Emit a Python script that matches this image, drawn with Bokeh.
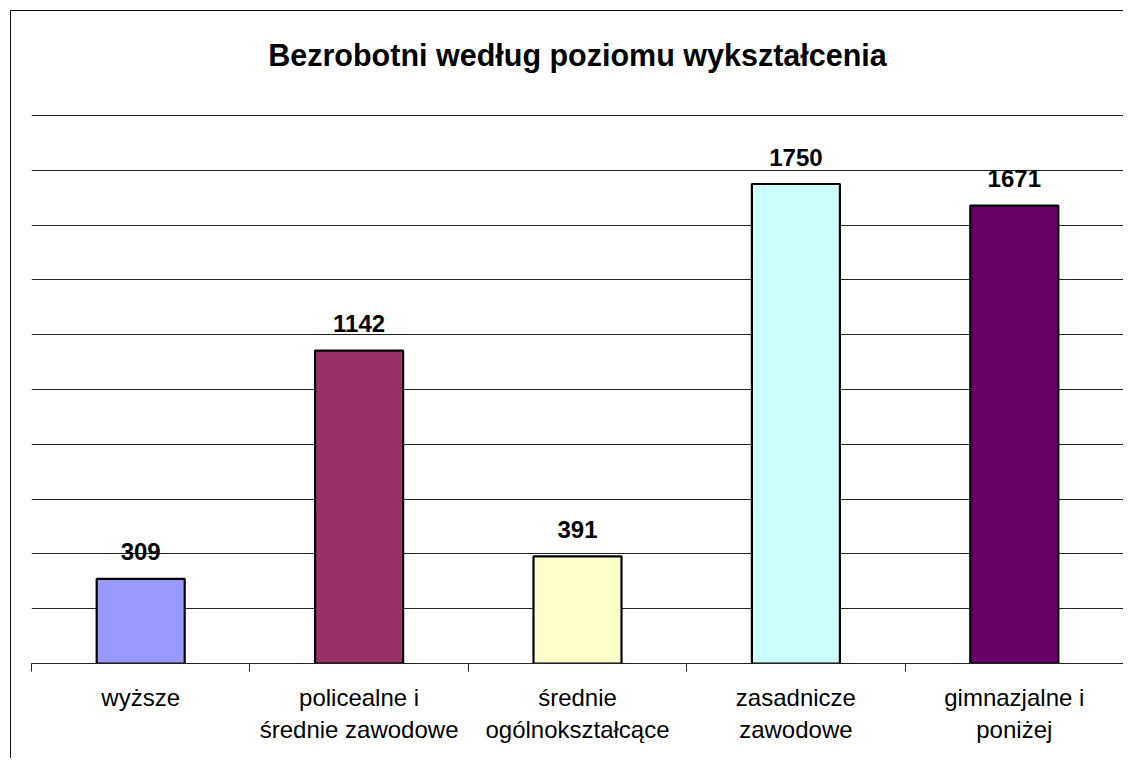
from bokeh.plotting import figure
from bokeh.models import ColumnDataSource, FixedTicker, Range1d
from bokeh.core.properties import value
from bokeh.embed import file_html
from bokeh.resources import INLINE

title_text = "Bezrobotni według poziomu wykształcenia"
categories = ["wyższe", "policealne i\nśrednie zawodowe", "średnie\nogólnokształcące",
              "zasadnicze\nzawodowe", "gimnazjalne i\nponiżej"]
values = [309, 1142, 391, 1750, 1671]
colors = ["#9999FF", "#993366", "#FFFFCC", "#CCFFFF", "#660066"]
positions = [1, 2, 3, 4, 5]
boundaries = [0.5, 1.5, 2.5, 3.5, 4.5, 5.5]
grid_values = [200, 400, 600, 800, 1000, 1200, 1400, 1600, 1800, 2000]

src = ColumnDataSource(dict(x=positions, top=values, color=colors,
                            label=[str(v) for v in values]))

# frame spans beyond the value axis so the title fits inside it
p = figure(width=1113, height=748, output_backend="svg", toolbar_location=None,
           x_range=Range1d(0.5, 5.5), y_range=Range1d(0, 2365),
           min_border_left=20, min_border_right=1, min_border_top=4, min_border_bottom=96)
p.styles = {"margin": "10px 0 0 10px", "border-left": "1px solid #111", "border-top": "1px solid #111"}
p.background_fill_color = "white"
p.border_fill_color = "white"
p.outline_line_color = None

title_src = ColumnDataSource(dict(x=[sum(positions) / len(positions)], y=[max(grid_values)],
                                  text=[title_text]))
p.text(x="x", y="y", text="text", source=title_src, text_align="center",
       text_baseline="alphabetic", y_offset=-61, text_font=value("Liberation Sans"),
       text_font_size="30.5px", text_font_style="bold", text_color="black")

p.vbar(x="x", top="top", bottom=0, width=0.403, fill_color="color",
       line_color="black", line_width=2.2, source=src)
p.text(x="x", y="top", text="label", source=src, text_align="center",
       text_baseline="alphabetic", y_offset=-27, text_font=value("Liberation Sans"),
       text_font_size="24px", text_font_style="bold", text_color="black")

p.yaxis.visible = False
p.ygrid.ticker = FixedTicker(ticks=grid_values)
p.ygrid.grid_line_color = "#222222"
p.ygrid.grid_line_width = 1
p.xgrid.grid_line_color = None

ax = p.xaxis[0]
ax.ticker = FixedTicker(ticks=positions, minor_ticks=boundaries)
ax.major_label_overrides = {pos: cat for pos, cat in zip(positions, categories)}
ax.major_tick_line_color = None
ax.minor_tick_in = 0
ax.minor_tick_out = 8
ax.minor_tick_line_color = "#222222"
ax.axis_line_color = "#222222"
ax.major_label_standoff = 12
ax.major_label_text_font = "Liberation Sans"
ax.major_label_text_font_size = "24px"
ax.major_label_text_color = "black"

open("out.html", "w").write(file_html(p, INLINE))
